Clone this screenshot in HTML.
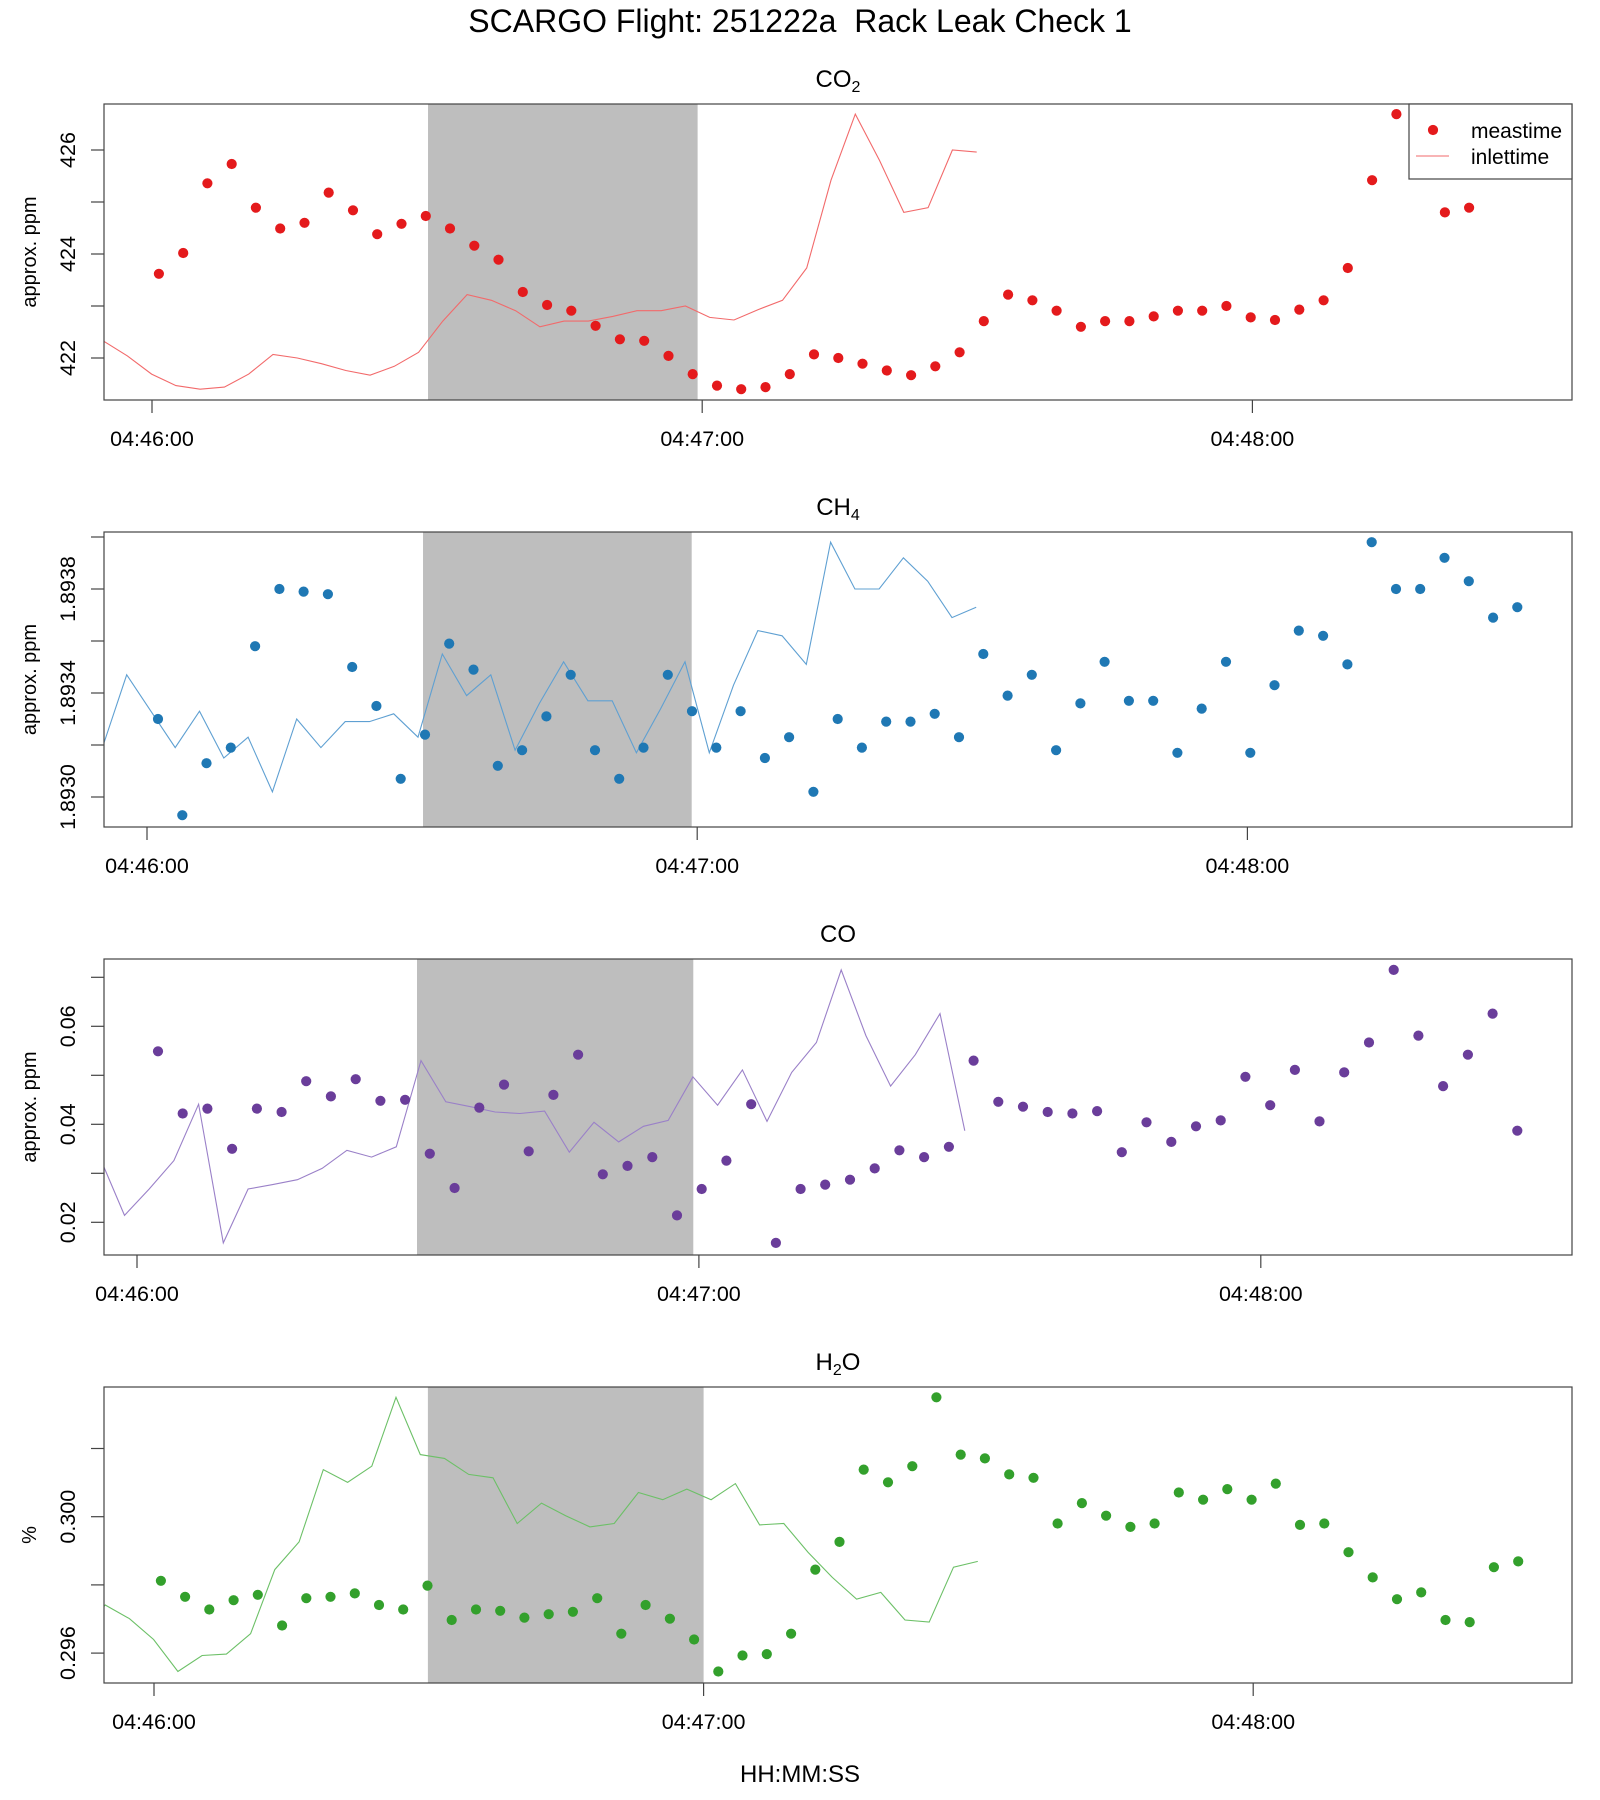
<!DOCTYPE html>
<html><head><meta charset="utf-8"><title>SCARGO Flight 251222a Rack Leak Check 1</title>
<style>
html,body{margin:0;padding:0;background:#fff;}
svg{display:block;font-family:"Liberation Sans",Arial,sans-serif;}
</style></head>
<body>
<svg id="chart" width="1600" height="1800" viewBox="0 0 1600 1800" xmlns="http://www.w3.org/2000/svg">
<rect x="0" y="0" width="1600" height="1800" fill="#fff"/>
<text x="800" y="32" font-size="32" text-anchor="middle" fill="#000">SCARGO Flight: 251222a&#160; Rack Leak Check 1</text>
<text x="800" y="1782" font-size="24" text-anchor="middle" fill="#000">HH:MM:SS</text>
</svg>
<script>
// ---- data ----
const timesA = [0.75,3.40,6.04,8.69,11.33,13.98,16.63,19.27,21.92,24.56,27.21,29.86,32.50,35.15,37.79,40.44,43.09,45.73,48.38,51.02,53.67,56.32,58.96,61.61,64.25,66.90,69.55,72.19,74.84,77.48,80.13,82.78,85.42,88.07,90.71,93.36,96.01,98.65,101.30,103.94,106.59,109.24,111.88,114.53,117.17,119.82,122.47,125.11,127.76,130.40,133.05,135.70,138.34,140.99,143.63,146.28,148.93];
const timesCH4 = [1.2,3.85,6.49,9.14,11.79,14.44,17.08,19.73,22.38,25.02,27.67,30.32,32.96,35.61,38.26,40.91,43.55,46.2,48.85,51.49,54.14,56.79,59.43,62.08,64.73,67.38,70.02,72.67,75.32,77.96,80.61,83.26,85.9,88.55,91.2,93.85,96.49,99.14,101.79,104.43,107.08,109.73,112.37,115.02,117.67,120.32,122.96,125.61,128.26,130.9,133.55,136.2,138.84,141.49,144.14,146.79,149.43];
const timesCO = [2.24,4.88,7.52,10.16,12.8,15.44,18.07,20.71,23.35,25.99,28.63,31.27,33.91,36.55,39.19,41.83,44.46,47.1,49.74,52.38,55.02,57.66,60.3,62.94,65.58,68.22,70.86,73.49,76.13,78.77,81.41,84.05,86.69,89.33,91.97,94.61,97.24,99.88,102.52,105.16,107.8,110.44,113.08,115.72,118.36,121.0,123.64,126.27,128.91,131.55,134.19,136.83,139.47,142.11,144.75,147.39];
const co2Values = [423.62,424.02,425.36,425.73,424.89,424.49,424.6,425.18,424.84,424.38,424.58,424.73,424.49,424.16,423.89,423.27,423.02,422.91,422.62,422.36,422.33,422.04,421.69,421.47,421.4,421.44,421.69,422.07,422.0,421.89,421.76,421.67,421.84,422.11,422.71,423.22,423.11,422.91,422.6,422.71,422.71,422.8,422.91,422.91,423.0,422.78,422.73,422.93,423.11,423.73,425.42,426.69,425.8,424.8,424.89,426.0,425.96];
const ch4Values = [1.89330,1.89293,1.89313,1.89319,1.89358,1.89380,1.89379,1.89378,1.89350,1.89335,1.89307,1.89324,1.89359,1.89349,1.89312,1.89318,1.89331,1.89347,1.89318,1.89307,1.89319,1.89347,1.89333,1.89319,1.89333,1.89315,1.89323,1.89302,1.89330,1.89319,1.89329,1.89329,1.89332,1.89323,1.89355,1.89339,1.89347,1.89318,1.89336,1.89352,1.89337,1.89337,1.89317,1.89334,1.89352,1.89317,1.89343,1.89364,1.89362,1.89351,1.89398,1.89380,1.89380,1.89392,1.89383,1.89369,1.89373];
const coValues = [0.0549,0.0422,0.0432,0.0350,0.0432,0.0425,0.0488,0.0457,0.0492,0.0448,0.0450,0.0340,0.0270,0.0434,0.0481,0.0345,0.0460,0.0542,0.0298,0.0315,0.0333,0.0214,0.0268,0.0326,0.0441,0.0158,0.0268,0.0277,0.0287,0.0310,0.0347,0.0333,0.0354,0.0530,0.0446,0.0436,0.0425,0.0422,0.0427,0.0343,0.0404,0.0364,0.0396,0.0408,0.0497,0.0439,0.0511,0.0406,0.0506,0.0567,0.0715,0.0581,0.0478,0.0542,0.0626,0.0387];
const h2oValues = [0.29812,0.29765,0.29728,0.29755,0.29771,0.29681,0.29761,0.29765,0.29775,0.29741,0.29728,0.29798,0.29697,0.29728,0.29724,0.29704,0.29714,0.29721,0.29761,0.29657,0.29741,0.29701,0.29640,0.29546,0.29593,0.29597,0.29657,0.29845,0.29926,0.30138,0.30101,0.30148,0.30350,0.30182,0.30171,0.30124,0.30114,0.29980,0.30040,0.30003,0.29970,0.29980,0.30071,0.30050,0.30081,0.30050,0.30097,0.29976,0.29980,0.29896,0.29822,0.29758,0.29778,0.29697,0.29691,0.29852,0.29869];
const inletLag = 59; // seconds
const xTickTimes = [0, 60, 120];
const xTickLabels = ["04:46:00", "04:47:00", "04:48:00"];
const shadeStart = [30.1, 30.1, 29.9, 29.9];
const shadeEnd = [59.5, 59.4, 59.4, 60.0];
const co2Ticks = [422, 423, 424, 425, 426];
const co2TickLabels = ["422", "", "424", "", "426"];
const ch4Ticks = [1.8930, 1.8932, 1.8934, 1.8936, 1.8938, 1.8940];
const ch4TickLabels = ["1.8930", "", "1.8934", "", "1.8938", ""];
const coTicks = [0.02, 0.03, 0.04, 0.05, 0.06, 0.07];
const coTickLabels = ["0.02", "", "0.04", "", "0.06", ""];
const h2oTicks = [0.296, 0.298, 0.300, 0.302];
const h2oTickLabels = ["0.296", "", "0.300", ""];

// ---- layout ----
const NS = "http://www.w3.org/2000/svg";
const svg = document.getElementById("chart");
const L = 104, R = 1572;
const panels = [
  {key:"co2", title:["CO","2",""], top:104, bot:400, x0:152, k:9.17, vRef:426, yRef:150, ky:52, times:timesA, vals:co2Values, ticks:co2Ticks, tl:co2TickLabels, ylab:"approx. ppm", pt:"#e41a1c", ln:"#f26a6b"},
  {key:"ch4", title:["CH","4",""], top:532, bot:827, x0:147, k:9.17, vRef:1.8938, yRef:589, ky:260000, times:timesCH4, vals:ch4Values, ticks:ch4Ticks, tl:ch4TickLabels, ylab:"approx. ppm", pt:"#1f78b4", ln:"#5fa0d2"},
  {key:"co", title:["CO","",""], top:959, bot:1255, x0:137, k:9.365, vRef:0.06, yRef:1026.3, ky:4900, times:timesCO, vals:coValues, ticks:coTicks, tl:coTickLabels, ylab:"approx. ppm", pt:"#6a3d9a", ln:"#9a80c8"},
  {key:"h2o", title:["H","2","O"], top:1387, bot:1683, x0:154, k:9.16, vRef:0.300, yRef:1516.7, ky:34100, times:timesA, vals:h2oValues, ticks:h2oTicks, tl:h2oTickLabels, ylab:"%", pt:"#33a02c", ln:"#6cc067"}
];
function mk(tag, attrs, parent){ const e=document.createElementNS(NS,tag); for(const a in attrs) e.setAttribute(a,attrs[a]); (parent||svg).appendChild(e); return e; }
const defs = mk("defs",{});

panels.forEach((p, pi) => {
  const xs = t => p.x0 + t*p.k;
  const ys = v => p.yRef + (p.vRef - v)*p.ky;
  const g = mk("g",{});
  
  
  const cp = mk("clipPath",{id:"clip"+pi}, defs);
  mk("rect",{x:L,y:p.top,width:R-L,height:p.bot-p.top}, cp);

  const sh = mk("rect",{x:xs(shadeStart[pi]), y:p.top, width:xs(shadeEnd[pi])-xs(shadeStart[pi]), height:p.bot-p.top, fill:"#bebebe"}, g);
  
  

  const d = p.vals.map((v,i)=> (i?"L":"M") + xs(p.times[i]-inletLag).toFixed(1) + "," + ys(v).toFixed(1)).join(" ");
  const ln = mk("path",{d:d, fill:"none", stroke:p.ln, "stroke-width":1.1, "clip-path":"url(#clip"+pi+")"}, g);
  
  

  p.vals.forEach((v,i) => {
    const c = mk("circle",{cx:xs(p.times[i]).toFixed(1), cy:ys(v).toFixed(1), r:5.1, fill:p.pt, "clip-path":"url(#clip"+pi+")"}, g);
    
    
  });

  const fr = mk("rect",{x:L, y:p.top, width:R-L, height:p.bot-p.top, fill:"none", stroke:"#444", "stroke-width":1.2}, g);
  
  

  xTickTimes.forEach((t,i) => {
    const x = xs(t);
    const tk = mk("line",{x1:x,x2:x,y1:p.bot,y2:p.bot+13,stroke:"#444","stroke-width":1.2}, g);
    
    
    const tx = mk("text",{x:x, y:p.bot+46, "font-size":21.5, "text-anchor":"middle", fill:"#000"}, g);
    tx.textContent = xTickLabels[i];
    
    
  });

  p.ticks.forEach((v,i) => {
    const y = ys(v);
    const tk = mk("line",{x1:91,x2:L,y1:y,y2:y,stroke:"#444","stroke-width":1.2}, g);
    
    
    if (p.tl[i]) {
      const tx = mk("text",{x:75, y:y, "font-size":21.5, "text-anchor":"middle", fill:"#000", transform:"rotate(-90 75 "+y+")"}, g);
      tx.textContent = p.tl[i];
      
      
    }
  });

  const ym = (p.top+p.bot)/2;
  const yl = mk("text",{x:36, y:ym, "font-size":20, "text-anchor":"middle", fill:"#000", transform:"rotate(-90 36 "+ym+")"}, g);
  yl.textContent = p.ylab;
  
  

  const tt = mk("text",{x:838, y:p.top-17, "font-size":24, "text-anchor":"middle", fill:"#000"}, g);
  
  
  const s1 = mk("tspan",{}, tt); s1.textContent = p.title[0];
  if (p.title[1]) { const s2 = mk("tspan",{"font-size":16, dy:5}, tt); s2.textContent = p.title[1]; }
  if (p.title[2]) { const s3 = mk("tspan",{dy:-5}, tt); s3.textContent = p.title[2]; }
});

const lg = mk("g",{});


mk("rect",{x:1409,y:104,width:163,height:75,fill:"#fff",stroke:"#444","stroke-width":1.2}, lg);
const lp = mk("circle",{cx:1433,cy:130,r:5.1,fill:"#e41a1c"}, lg);


const lt1 = mk("text",{x:1471,y:138,"font-size":21,fill:"#000"}, lg);
lt1.textContent = "meastime";


const ll = mk("line",{x1:1416,x2:1449,y1:156,y2:156,stroke:"#f26a6b","stroke-width":1.1}, lg);


const lt2 = mk("text",{x:1471,y:164,"font-size":21,fill:"#000"}, lg);
lt2.textContent = "inlettime";


</script>
</body></html>
